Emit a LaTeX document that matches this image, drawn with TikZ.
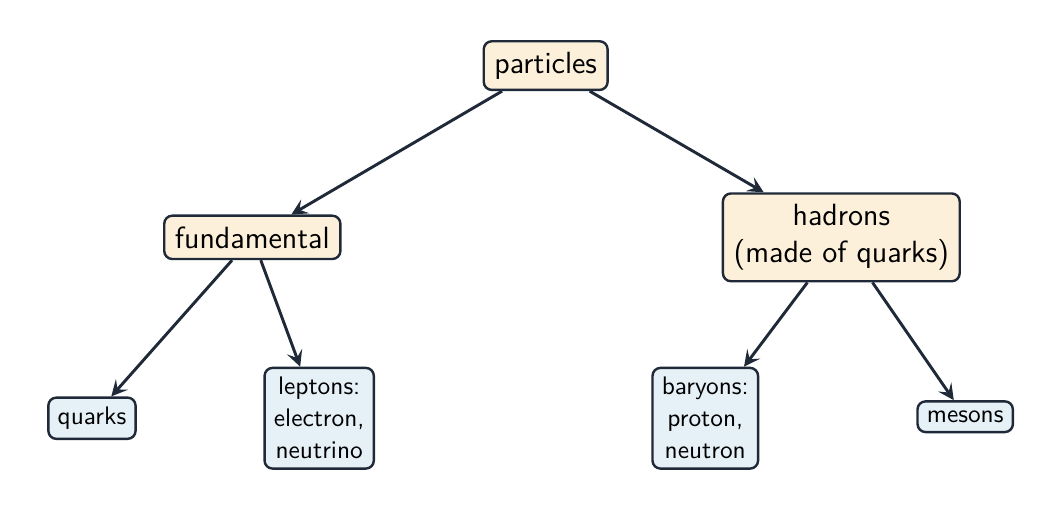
\documentclass[tikz,border=0pt]{standalone}
\usetikzlibrary{arrows.meta}
\definecolor{edgecol}{HTML}{1F2937}
\definecolor{warmfill}{HTML}{FCF0DA}
\definecolor{coolfill}{HTML}{E5F0F7}
\tikzset{
  upper/.style={draw=edgecol, line width=0.9pt, rounded corners=3pt, fill=warmfill,
    font=\sffamily\fontsize{11.5}{14}\selectfont, align=center, inner sep=4pt},
  leaf/.style={draw=edgecol, line width=0.9pt, rounded corners=3pt, fill=coolfill,
    font=\sffamily\fontsize{9.5}{12}\selectfont, align=center, inner sep=3.5pt},
  link/.style={draw=edgecol, line width=1.1pt, -{Stealth[length=6pt,width=6pt,inset=2.5pt]}}
}
\begin{document}
\begin{tikzpicture}
\useasboundingbox (0,0) rectangle (14,6.763);
\node[upper] (particles) at (7.18,5.90) {particles};
\node[upper] (fundamental) at (3.32,3.64) {fundamental};
\node[upper] (hadrons) at (11.07,3.64) {hadrons\\(made of quarks)};
\node[leaf] (quarks) at (1.21,1.26) {quarks};
\node[leaf] (leptons) at (4.20,1.26) {leptons:\\electron,\\neutrino};
\node[leaf] (baryons) at (9.28,1.26) {baryons:\\proton,\\neutron};
\node[leaf] (mesons) at (12.70,1.28) {mesons};
\draw[link] (particles) -- (fundamental);
\draw[link] (particles) -- (hadrons);
\draw[link] (fundamental) -- (quarks);
\draw[link] (fundamental) -- (leptons);
\draw[link] (hadrons) -- (baryons);
\draw[link] (hadrons) -- (mesons);
\end{tikzpicture}
\end{document}
